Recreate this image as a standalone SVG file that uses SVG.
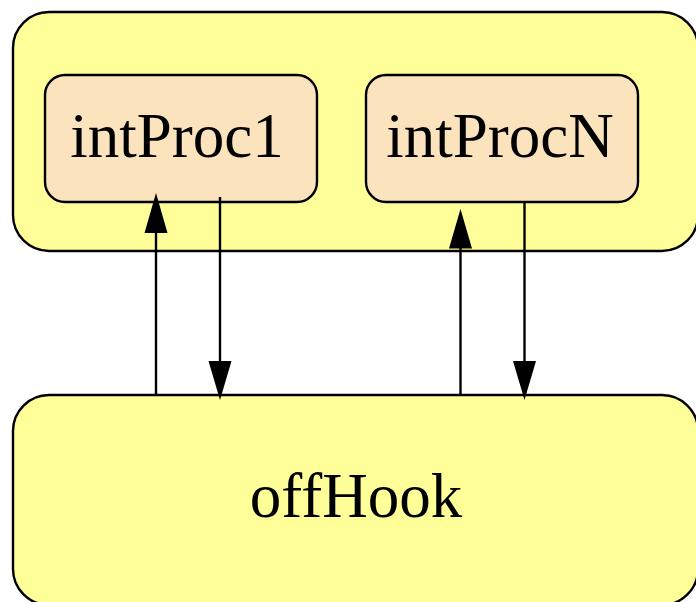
<svg xmlns="http://www.w3.org/2000/svg" width="696" height="602" viewBox="0 0 696 602">
  <style>
    .box { stroke: #000; stroke-width: 2.4; }
    .outer { fill: #ffff99; }
    .inner { fill: #fbe3bd; }
    .label { font-family: "Liberation Serif", "Times New Roman", serif; font-size: 63px; fill: #000; text-anchor: middle; }
    .edge { stroke: #000; stroke-width: 2.4; fill: none; }
    .head { fill: #000; }
  </style>

  <!-- enclosing state -->
  <g id="container">
    <rect class="box outer" x="13" y="12" width="685" height="239" rx="36" ry="36"/>
  </g>

  <g id="intProc1">
    <rect class="box inner" x="45" y="75" width="272" height="127" rx="20" ry="20"/>
    <text class="label" x="177" y="157">intProc1</text>
  </g>

  <g id="intProcN">
    <rect class="box inner" x="366" y="75" width="272" height="127" rx="20" ry="20"/>
    <text class="label" x="500" y="157">intProcN</text>
  </g>

  <g id="offHook">
    <rect class="box outer" x="13" y="395" width="685" height="210" rx="36" ry="36"/>
    <text class="label" x="356" y="517">offHook</text>
  </g>

  <!-- transitions -->
  <g id="connectors">
    <line class="edge" x1="156" y1="396" x2="156" y2="230"/>
    <path class="head" d="M156,193 L144.5,233 L167.5,233 Z"/>
    <line class="edge" x1="220" y1="197" x2="220" y2="362"/>
    <path class="head" d="M220,400 L208.5,361 L231.5,361 Z"/>
    <line class="edge" x1="460.5" y1="396" x2="460.5" y2="246"/>
    <path class="head" d="M460.5,209 L449,248.5 L472,248.5 Z"/>
    <line class="edge" x1="524.5" y1="201" x2="524.5" y2="362"/>
    <path class="head" d="M524.5,400 L513,361 L536,361 Z"/>
  </g>
</svg>
